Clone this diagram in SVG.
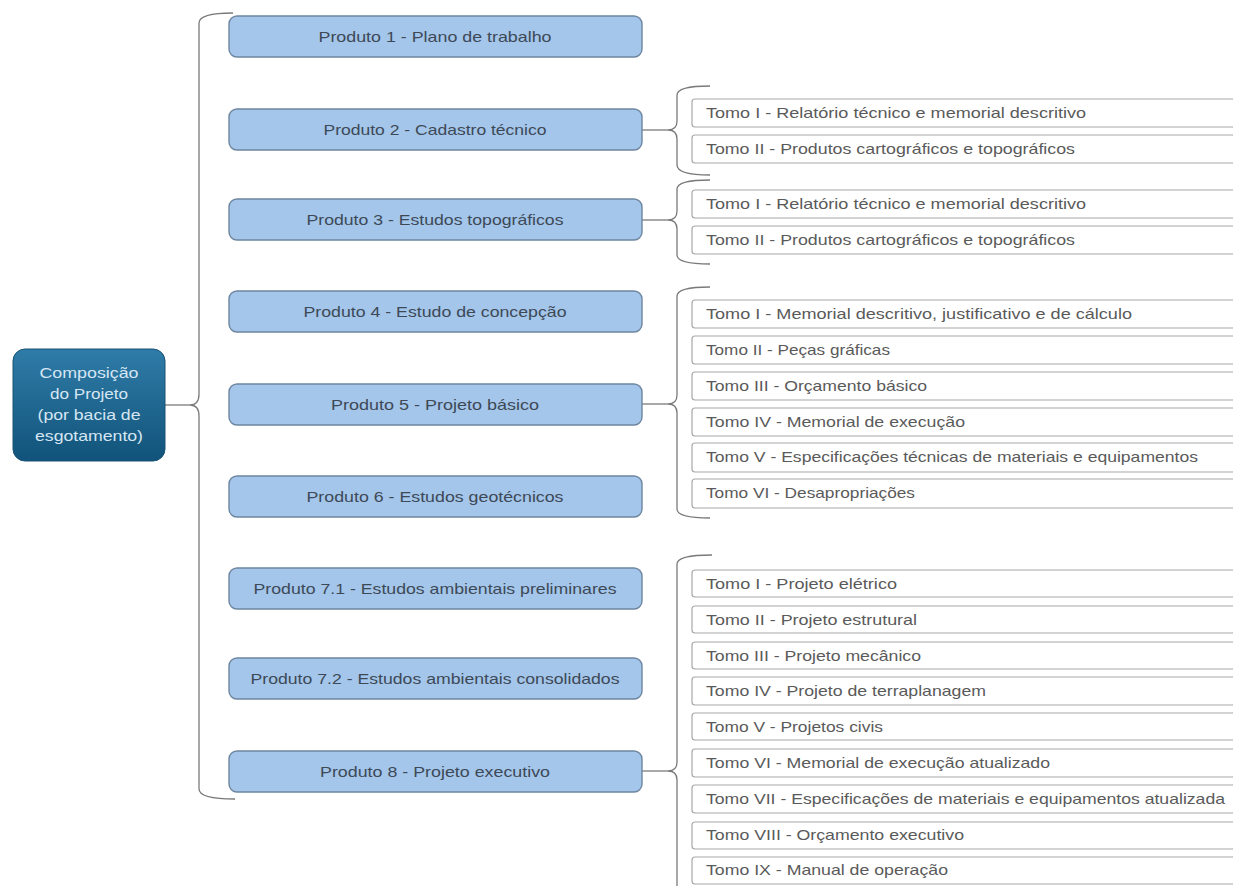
<svg xmlns="http://www.w3.org/2000/svg" width="1233" height="886" viewBox="0 0 1233 886">
<defs>
<linearGradient id="rootGrad" x1="0" y1="0" x2="0" y2="1">
<stop offset="0" stop-color="#2f7ca8"/>
<stop offset="1" stop-color="#11537a"/>
</linearGradient>
<style>
.prod rect{fill:#a3c6ea;stroke:#6e86a0;stroke-width:1.4}
.prod text{font-family:"Liberation Sans",Arial,sans-serif;font-size:15px;fill:#3e4957;text-anchor:middle}
.tomo rect{fill:#ffffff;stroke:#a8a8a8;stroke-width:1.2}
.tomo text{font-family:"Liberation Sans",Arial,sans-serif;font-size:15px;fill:#5a5a5a}
.root text{font-family:"Liberation Sans",Arial,sans-serif;font-size:15px;fill:#d6e6f3;text-anchor:middle}
.conn path{fill:none;stroke:#7a7a7a;stroke-width:1.3}
</style>
</defs>
<rect width="1233" height="886" fill="#ffffff"/>

<g id="connectors" class="conn">
<path d="M165 405 L190 405"/>
<path d="M233 13 Q199 13 199 23 L199 394 Q199 405 190 405 Q199 405 199 416 L199 789 Q199 799 235 799"/>
<path d="M642 130 L668 130"/>
<path d="M710 86 Q677 86 677 95 L677 121 Q677 130 668 130 Q677 130 677 139 L677 165 Q677 175 710 175"/>
<path d="M642 220 L668 220"/>
<path d="M710 180 Q677 180 677 189 L677 211 Q677 220 668 220 Q677 220 677 229 L677 255 Q677 264 710 264"/>
<path d="M642 404 L668 404"/>
<path d="M710 287 Q677 287 677 296 L677 395 Q677 404 668 404 Q677 404 677 413 L677 509 Q677 518 710 518"/>
<path d="M642 771 L668 771"/>
<path d="M712 555 Q677 555 677 564 L677 762 Q677 771 668 771 Q677 771 677 780 L677 890"/>
</g>

<g id="root" class="root">
<rect x="13" y="349" width="152" height="112" rx="12" fill="url(#rootGrad)" stroke="#1a5275" stroke-width="1"/>
<text x="89" y="378" textLength="99" lengthAdjust="spacingAndGlyphs">Composição</text>
<text x="89" y="399" textLength="78" lengthAdjust="spacingAndGlyphs">do Projeto</text>
<text x="89" y="420" textLength="103" lengthAdjust="spacingAndGlyphs">(por bacia de</text>
<text x="89" y="441" textLength="108" lengthAdjust="spacingAndGlyphs">esgotamento)</text>
</g>

<g id="produto1" class="prod"><rect x="229" y="16" width="413" height="41" rx="8"/><text x="435" y="42" textLength="233" lengthAdjust="spacingAndGlyphs">Produto 1 - Plano de trabalho</text></g>
<g id="produto2" class="prod"><rect x="229" y="109" width="413" height="41" rx="8"/><text x="435" y="135" textLength="223" lengthAdjust="spacingAndGlyphs">Produto 2 - Cadastro técnico</text></g>
<g id="produto3" class="prod"><rect x="229" y="199" width="413" height="41" rx="8"/><text x="435" y="225" textLength="257" lengthAdjust="spacingAndGlyphs">Produto 3 - Estudos topográficos</text></g>
<g id="produto4" class="prod"><rect x="229" y="291" width="413" height="41" rx="8"/><text x="435" y="317" textLength="263" lengthAdjust="spacingAndGlyphs">Produto 4 - Estudo de concepção</text></g>
<g id="produto5" class="prod"><rect x="229" y="384" width="413" height="41" rx="8"/><text x="435" y="410" textLength="208" lengthAdjust="spacingAndGlyphs">Produto 5 - Projeto básico</text></g>
<g id="produto6" class="prod"><rect x="229" y="476" width="413" height="41" rx="8"/><text x="435" y="502" textLength="257" lengthAdjust="spacingAndGlyphs">Produto 6 - Estudos geotécnicos</text></g>
<g id="produto71" class="prod"><rect x="229" y="568" width="413" height="41" rx="8"/><text x="435" y="594" textLength="363" lengthAdjust="spacingAndGlyphs">Produto 7.1 - Estudos ambientais preliminares</text></g>
<g id="produto72" class="prod"><rect x="229" y="658" width="413" height="41" rx="8"/><text x="435" y="684" textLength="369" lengthAdjust="spacingAndGlyphs">Produto 7.2 - Estudos ambientais consolidados</text></g>
<g id="produto8" class="prod"><rect x="229" y="751" width="413" height="41" rx="8"/><text x="435" y="777" textLength="230" lengthAdjust="spacingAndGlyphs">Produto 8 - Projeto executivo</text></g>

<g id="p2-tomo1" class="tomo"><rect x="692" y="99" width="560" height="28" rx="3"/><text x="706" y="118" textLength="380" lengthAdjust="spacingAndGlyphs">Tomo I - Relatório técnico e memorial descritivo</text></g>
<g id="p2-tomo2" class="tomo"><rect x="692" y="135" width="560" height="28" rx="3"/><text x="706" y="154" textLength="369" lengthAdjust="spacingAndGlyphs">Tomo II - Produtos cartográficos e topográficos</text></g>

<g id="p3-tomo1" class="tomo"><rect x="692" y="190" width="560" height="28" rx="3"/><text x="706" y="209" textLength="380" lengthAdjust="spacingAndGlyphs">Tomo I - Relatório técnico e memorial descritivo</text></g>
<g id="p3-tomo2" class="tomo"><rect x="692" y="226" width="560" height="28" rx="3"/><text x="706" y="245" textLength="369" lengthAdjust="spacingAndGlyphs">Tomo II - Produtos cartográficos e topográficos</text></g>

<g id="p5-tomo1" class="tomo"><rect x="692" y="300" width="560" height="28" rx="3"/><text x="706" y="319" textLength="426" lengthAdjust="spacingAndGlyphs">Tomo I - Memorial descritivo, justificativo e de cálculo</text></g>
<g id="p5-tomo2" class="tomo"><rect x="692" y="336" width="560" height="28" rx="3"/><text x="706" y="355" textLength="184" lengthAdjust="spacingAndGlyphs">Tomo II - Peças gráficas</text></g>
<g id="p5-tomo3" class="tomo"><rect x="692" y="372" width="560" height="28" rx="3"/><text x="706" y="391" textLength="221" lengthAdjust="spacingAndGlyphs">Tomo III - Orçamento básico</text></g>
<g id="p5-tomo4" class="tomo"><rect x="692" y="408" width="560" height="28" rx="3"/><text x="706" y="427" textLength="259" lengthAdjust="spacingAndGlyphs">Tomo IV - Memorial de execução</text></g>
<g id="p5-tomo5" class="tomo"><rect x="692" y="443" width="560" height="29" rx="3"/><text x="706" y="462" textLength="492" lengthAdjust="spacingAndGlyphs">Tomo V - Especificações técnicas de materiais e equipamentos</text></g>
<g id="p5-tomo6" class="tomo"><rect x="692" y="479" width="560" height="29" rx="3"/><text x="706" y="498" textLength="209" lengthAdjust="spacingAndGlyphs">Tomo VI - Desapropriações</text></g>

<g id="p8-tomo1" class="tomo"><rect x="692" y="570" width="560" height="27" rx="3"/><text x="706" y="589" textLength="191" lengthAdjust="spacingAndGlyphs">Tomo I - Projeto elétrico</text></g>
<g id="p8-tomo2" class="tomo"><rect x="692" y="606" width="560" height="27" rx="3"/><text x="706" y="625" textLength="211" lengthAdjust="spacingAndGlyphs">Tomo II - Projeto estrutural</text></g>
<g id="p8-tomo3" class="tomo"><rect x="692" y="642" width="560" height="27" rx="3"/><text x="706" y="661" textLength="215" lengthAdjust="spacingAndGlyphs">Tomo III - Projeto mecânico</text></g>
<g id="p8-tomo4" class="tomo"><rect x="692" y="677" width="560" height="28" rx="3"/><text x="706" y="696" textLength="280" lengthAdjust="spacingAndGlyphs">Tomo IV - Projeto de terraplanagem</text></g>
<g id="p8-tomo5" class="tomo"><rect x="692" y="713" width="560" height="27" rx="3"/><text x="706" y="732" textLength="177" lengthAdjust="spacingAndGlyphs">Tomo V - Projetos civis</text></g>
<g id="p8-tomo6" class="tomo"><rect x="692" y="749" width="560" height="28" rx="3"/><text x="706" y="768" textLength="344" lengthAdjust="spacingAndGlyphs">Tomo VI - Memorial de execução atualizado</text></g>
<g id="p8-tomo7" class="tomo"><rect x="692" y="785" width="560" height="28" rx="3"/><text x="706" y="804" textLength="519" lengthAdjust="spacingAndGlyphs">Tomo VII - Especificações de materiais e equipamentos atualizada</text></g>
<g id="p8-tomo8" class="tomo"><rect x="692" y="822" width="560" height="27" rx="3"/><text x="706" y="840" textLength="258" lengthAdjust="spacingAndGlyphs">Tomo VIII - Orçamento executivo</text></g>
<g id="p8-tomo9" class="tomo"><rect x="692" y="857" width="560" height="27" rx="3"/><text x="706" y="875" textLength="242" lengthAdjust="spacingAndGlyphs">Tomo IX - Manual de operação</text></g>
</svg>
